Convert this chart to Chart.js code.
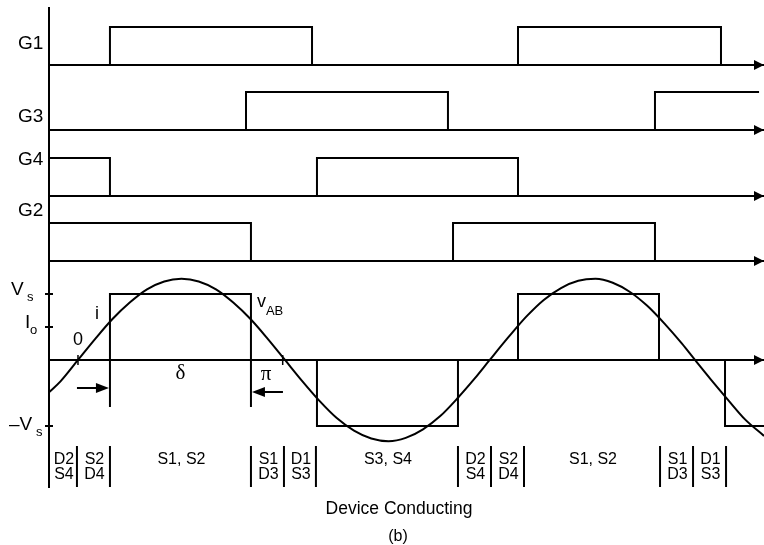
<!DOCTYPE html>
<html>
<head>
<meta charset="utf-8">
<title>Full-bridge inverter waveforms</title>
<script src="https://cdn.jsdelivr.net/npm/chart.js@4"></script>
<style>
  body { margin: 0; background: #fff; }
  #wrap { width: 764px; height: 545px; }
</style>
</head>
<body>
<div id="wrap"><canvas id="myChart"></canvas></div>
<script>
// angle axis in degrees, 0 = rising zero crossing of i
const angleMin = -25.2;
const angleMax = 596.5;

// gate signals: on intervals [from, to] in degrees
const g1On = [[27.8, 203.5], [382.6, 559.1]];
const g3On = [[146.1, 321.7], [501.7, 592.2]];
const g4On = [[-25.2, 27.8], [207.8, 382.6]];
const g2On = [[-25.2, 150.4], [326.1, 501.7]];

// output voltage vAB: [from, to, level in Vs]
const vabBlocks = [[27.8, 150.4, 1], [207.8, 330.4, -1], [382.6, 505.2, 1], [562.6, 596.5, -1]];

// load current i (same units as Vs)
const iAngle = [-25.2, -15, 0, 15, 30, 45, 60, 75, 90, 105, 120, 135, 150, 165, 180,
  195, 210, 225, 240, 255, 270, 285, 300, 315, 330, 345, 358,
  375, 390, 405, 420, 435, 450, 465, 480, 495, 510, 525, 536.5,
  550, 565, 580, 596.5];
const iValue = [-0.49, -0.32, 0, 0.32, 0.62, 0.87, 1.07, 1.19, 1.23, 1.19, 1.07, 0.87, 0.62, 0.32, 0,
  -0.32, -0.62, -0.88, -1.07, -1.19, -1.23, -1.18, -1.05, -0.85, -0.58, -0.28, 0,
  0.36, 0.66, 0.91, 1.09, 1.2, 1.23, 1.17, 1.03, 0.82, 0.55, 0.25, 0,
  -0.29, -0.6, -0.9, -1.15];

// marked zero crossings of i
const iZeroMarks = [0, 178];

// device conducting table
const conductBounds = [-0.9, 27.8, 150.4, 179.1, 206.9, 330.4, 359.1, 387.8, 506.1, 534.8, 563.5];
const conductLabels = ["D2\nS4", "S2\nD4", "S1, S2", "S1\nD3", "D1\nS3", "S3, S4",
  "D2\nS4", "S2\nD4", "S1, S2", "S1\nD3", "D1\nS3"];

function blockLine(blocks, closeLast) {
  const pts = [];
  blocks.forEach((b, k) => {
    const lv = b.length > 2 ? b[2] : 1;
    pts.push({x: b[0], y: 0}, {x: b[0], y: lv}, {x: b[1], y: lv});
    if (closeLast || k < blocks.length - 1) pts.push({x: b[1], y: 0});
  });
  return pts;
}

const SANS = '"Liberation Sans", Arial, Helvetica, sans-serif';
const SERIF = '"Liberation Serif", "Times New Roman", serif';

function gateAxis(weight, stackWeight, max) {
  return {
    type: 'linear', position: 'left', stack: 'wave', stackWeight: stackWeight, weight: weight,
    min: -0.263, max: max,
    afterBuildTicks: s => { s.ticks = [{value: 0}]; },
    ticks: {display: false},
    grid: {color: '#000', lineWidth: 2, drawTicks: false},
    border: {display: true, color: '#000', width: 2}
  };
}

const annotate = {
  id: 'annotate',
  afterDraw(chart) {
    const {ctx, chartArea: area, scales} = chart;
    const x = scales.x, yV = scales.yV;
    ctx.save();
    ctx.fillStyle = '#000';
    ctx.strokeStyle = '#000';
    ctx.lineWidth = 2;

    function seg(x1, y1, x2, y2) {
      ctx.beginPath(); ctx.moveTo(x1, y1); ctx.lineTo(x2, y2); ctx.stroke();
    }
    function head(tx, ty, dir, len, half) {
      ctx.beginPath();
      ctx.moveTo(tx, ty);
      ctx.lineTo(tx - dir * len, ty - half);
      ctx.lineTo(tx - dir * len, ty + half);
      ctx.closePath();
      ctx.fill();
    }
    function text(str, px, py, font, align, base) {
      ctx.font = font;
      ctx.textAlign = align || 'center';
      ctx.textBaseline = base || 'middle';
      ctx.fillText(str, px, py);
    }

    // arrowheads on the time axes
    ['yG1', 'yG3', 'yG4', 'yG2', 'yV'].forEach(id => {
      head(area.right, scales[id].getPixelForValue(0), 1, 10, 5);
    });

    // Vs, Io, -Vs tick marks
    [1, 0.5, -1].forEach(v => {
      const py = yV.getPixelForValue(v);
      seg(area.left - 4, py, area.left + 4, py);
    });

    // gate labels
    const gl = 18;
    text('G1', gl, scales.yG1.getPixelForValue(0.55), '19px ' + SANS, 'left');
    text('G3', gl, scales.yG3.getPixelForValue(0.34), '19px ' + SANS, 'left');
    text('G4', gl, scales.yG4.getPixelForValue(0.95), '19px ' + SANS, 'left');
    text('G2', gl, scales.yG2.getPixelForValue(1.32), '19px ' + SANS, 'left');

    // level labels
    const pVs = yV.getPixelForValue(1), pIo = yV.getPixelForValue(0.5), pNs = yV.getPixelForValue(-1);
    text('V', 11, pVs + 1, '19px ' + SANS, 'left', 'alphabetic');
    text('s', 27, pVs + 7, '13px ' + SANS, 'left', 'alphabetic');
    text('I', 25, pIo + 1, '19px ' + SANS, 'left', 'alphabetic');
    text('o', 30, pIo + 7, '13px ' + SANS, 'left', 'alphabetic');
    text('\u2013V', 9, pNs + 4, '19px ' + SANS, 'left', 'alphabetic');
    text('s', 36, pNs + 10, '13px ' + SANS, 'left', 'alphabetic');

    const y0 = yV.getPixelForValue(0);
    const e1 = x.getPixelForValue(vabBlocks[0][0]);
    const e2 = x.getPixelForValue(vabBlocks[0][1]);
    text('0', x.getPixelForValue(0), y0 - 20, '18px ' + SANS);
    text('i', e1 - 13, y0 - 46, '18px ' + SANS);
    text('v', e2 + 6, y0 - 53, '18px ' + SANS, 'left', 'alphabetic');
    text('AB', e2 + 15, y0 - 45, '13px ' + SANS, 'left', 'alphabetic');

    ctx.lineWidth = 1.5;
    iZeroMarks.forEach(a => {
      const px = x.getPixelForValue(a);
      seg(px, y0 - 5, px, y0 + 5);
    });
    ctx.lineWidth = 2;

    // delta dimension
    seg(e1, y0, e1, y0 + 47);
    seg(e2, y0, e2, y0 + 47);
    seg(e1 - 33, y0 + 28, e1 - 10, y0 + 28);
    head(e1 - 1, y0 + 28, 1, 13, 5);
    seg(e2 + 32, y0 + 32, e2 + 10, y0 + 32);
    head(e2 + 1, y0 + 32, -1, 13, 5);
    text('\u03b4', (e1 + e2) / 2, y0 + 13, '21px ' + SERIF);
    text('\u03c0', e2 + 15, y0 + 14, '21px ' + SERIF);

    // device conducting table
    const tTop = pNs + 20;
    conductBounds.forEach(b => {
      const px = x.getPixelForValue(b);
      seg(px, tTop, px, area.bottom);
    });
    conductLabels.forEach((lab, k) => {
      const a = k === 0 ? x.getPixelForValue(angleMin) : x.getPixelForValue(conductBounds[k - 1]);
      const c = (a + x.getPixelForValue(conductBounds[k])) / 2;
      const lines = lab.split('\n');
      lines.forEach((ln, j) => text(ln, c + 1, tTop + 14 + j * 14.5, '16px ' + SANS));
    });

    text('Device Conducting', 399, area.bottom + 22, '17.5px ' + SANS);
    text('(b)', 398, area.bottom + 50, '16px ' + SANS);
    ctx.restore();
  }
};

const ctx = document.getElementById('myChart');

const chart = new Chart(ctx, {
  type: 'line',
  data: {
    datasets: [
      {label: 'G1', data: blockLine(g1On, true), yAxisID: 'yG1', borderColor: '#000'},
      {label: 'G3', data: blockLine(g3On, false), yAxisID: 'yG3', borderColor: '#000'},
      {label: 'G4', data: blockLine(g4On, true), yAxisID: 'yG4', borderColor: '#000'},
      {label: 'G2', data: blockLine(g2On, true), yAxisID: 'yG2', borderColor: '#000'},
      {label: 'vAB', data: blockLine(vabBlocks, false), yAxisID: 'yV', borderColor: '#000'},
      {
        label: 'i',
        data: iAngle.map((a, k) => ({x: a, y: iValue[k]})),
        yAxisID: 'yV',
        borderColor: '#000',
        cubicInterpolationMode: 'monotone'
      }
    ]
  },
  options: {
    responsive: true,
    maintainAspectRatio: false,
    animation: false,
    layout: {padding: {left: 49, top: 8, right: 0, bottom: 58}},
    datasets: {
      line: {borderWidth: 2, pointRadius: 0, fill: false, tension: 0, clip: false}
    },
    scales: {
      x: {type: 'linear', min: angleMin, max: angleMax, display: false},
      yG1: gateAxis(5, 67, 1.5),
      yG3: gateAxis(4, 65, 1.447),
      yG4: gateAxis(3, 66, 1.474),
      yG2: gateAxis(2, 65, 1.447),
      yV: Object.assign(gateAxis(1, 216, 1.348), {min: -1.924})
    },
    plugins: {
      colors: {enabled: false},
      legend: {display: false},
      tooltip: {enabled: false},
      title: {display: false}
    }
  },
  plugins: [annotate]
});
</script>
</body>
</html>
